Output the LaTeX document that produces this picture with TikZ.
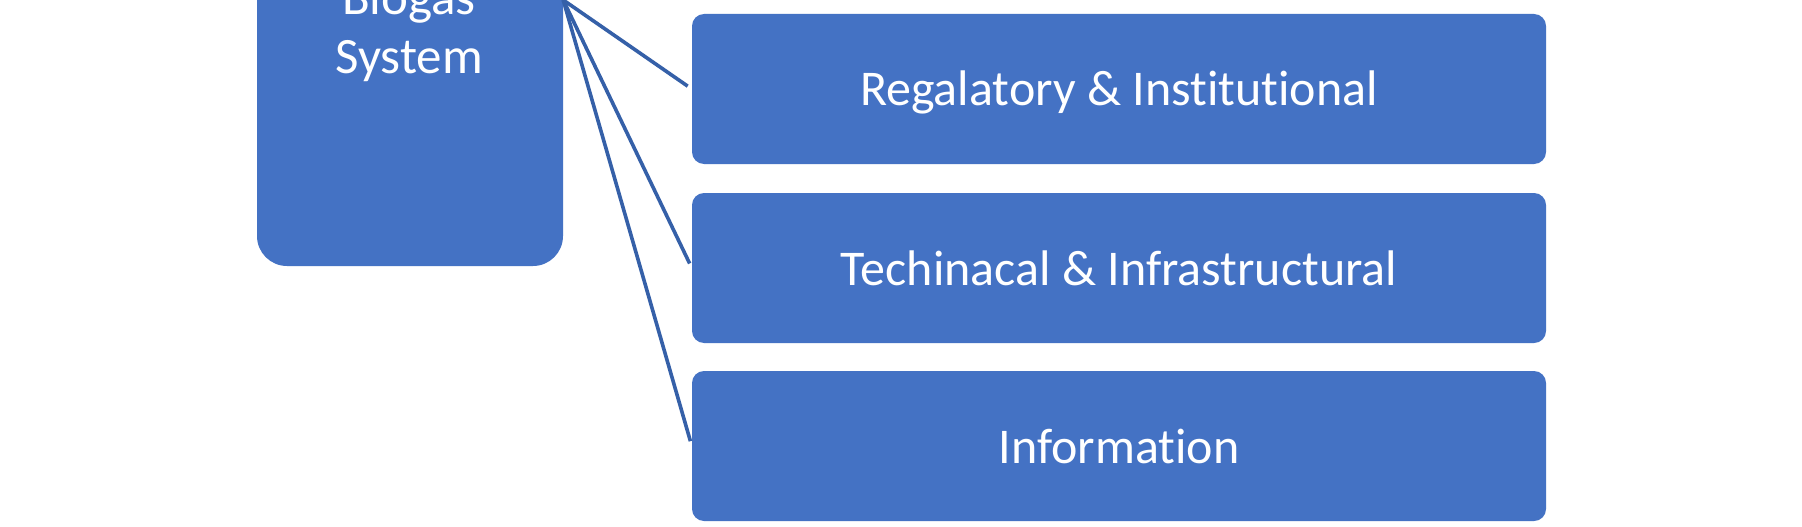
\documentclass[tikz,border=0pt]{standalone}
\usepackage{fontspec}
\setmainfont[Ligatures=NoCommon]{Carlito}
\definecolor{boxblue}{HTML}{4472C4}
\definecolor{lineblue}{HTML}{3560A8}
\tikzset{
  bigbox/.style={fill=boxblue, draw=none, rounded corners=30pt, minimum width=306pt, minimum height=532pt, inner sep=0pt},
  catbox/.style={fill=boxblue, draw=none, rounded corners=12pt, minimum width=854pt, minimum height=150pt, inner sep=0pt},
  cattext/.style={text=white, inner sep=0pt, anchor=base, font=\fontsize{50}{60}\selectfont},
  boxlabel/.style={text=white, align=center, inner sep=0pt, font=\fontsize{51}{59}\selectfont},
  link/.style={draw=lineblue, line width=3.6pt, shorten >=5pt}
}
\begin{document}
\begin{tikzpicture}[x=1pt,y=-1pt]
\useasboundingbox (0,0) rectangle (1802,527);
\clip (0,0) rectangle (1802,527);
\fill[white] (0,0) rectangle (1802,527);
\node[bigbox] (biogas) at (410,0) {};
\node[boxlabel, anchor=base] (biogastxt) at (409,74) {System};
\node[boxlabel, anchor=base] (biogastxt2) at (409,15) {Biogas};
\node[catbox] (reg) at (1119,89) {};
\node[catbox] (tech) at (1119,268) {};
\node[catbox] (info) at (1119,446) {};
\node[cattext] (regt) at ([yshift=-17pt]reg.center) {Regalatory \& Institutional};
\node[cattext] (techt) at ([yshift=-17pt]tech.center) {Techinacal \& Infrastructural};
\node[cattext] (infot) at ([yshift=-17pt]info.center) {Information};
\draw[link] (biogas.east) -- (reg.west);
\draw[link] (biogas.east) -- (tech.west);
\draw[link] (biogas.east) -- (info.west);
\end{tikzpicture}
\end{document}
